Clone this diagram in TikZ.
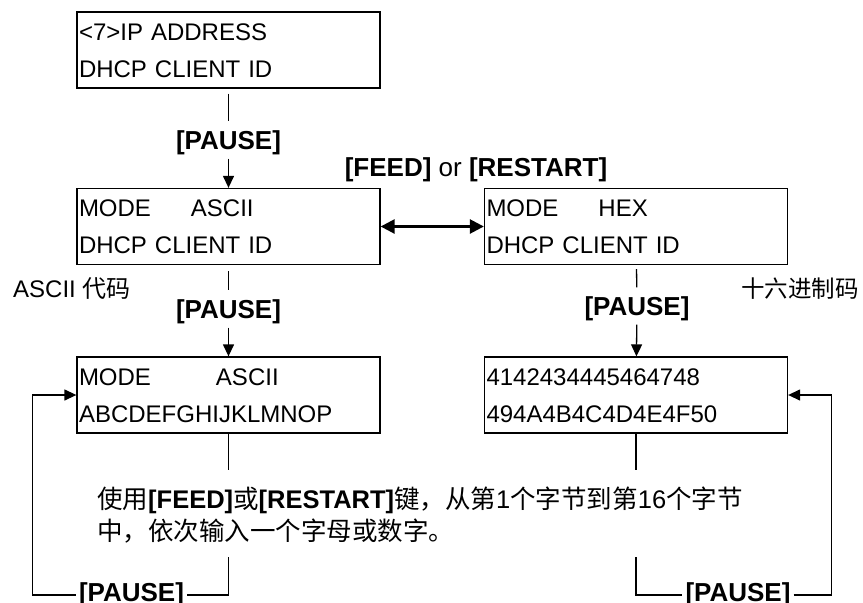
\documentclass[tikz,border=0pt]{standalone}
\usepackage{fontspec}
\setmainfont{Liberation Sans}
\newfontfamily\cjk{Noto Sans CJK SC}
\usetikzlibrary{arrows.meta,positioning}
\newcommand{\zh}[1]{{\cjk #1}}

\begin{document}
\begin{tikzpicture}[x=1pt, y=-1pt,
  lcd/.style={draw, line width=1.3pt, text width=299pt, align=left,
    inner xsep=2pt, inner ysep=11pt, text height=17pt, text depth=37pt,
    font=\fontsize{24}{37}\selectfont},
  key/.style={font=\fontsize{26}{30}\selectfont\bfseries, inner xsep=3pt,
    inner ysep=9pt, text height=19pt, text depth=0pt},
  link/.style={line width=1.3pt},
  tip/.style={line width=1.3pt, -{Triangle[length=12pt,width=11pt]}}]
  \useasboundingbox (0,0) rectangle (863,603);

  % display boxes
  \node[lcd] (ip) at (228.5,50) {<7>IP ADDRESS\\DHCP CLIENT ID};
  \node[lcd] (asc) at (228.5,226.5) {\makebox[112pt][l]{MODE}ASCII\\DHCP CLIENT ID};
  \node[lcd] (hex) at (636,226.5) {\makebox[112pt][l]{MODE}HEX\\DHCP CLIENT ID};
  \node[lcd] (ascin) at (228.5,395) {\makebox[137pt][l]{MODE}ASCII\\ABCDEFGHIJKLMNOP};
  \node[lcd] (hexin) at (636,395) {4142434445464748\\494A4B4C4D4E4F50};

  % key labels
  \node[key] (p1) at (228.5,140) {[PAUSE]};
  \node[key] (p2) at (228.5,309) {[PAUSE]};
  \node[key] (p3) at (637,306) {[PAUSE]};
  \node[key] (sw) at (476,167) {[FEED]\textmd{ or }[RESTART]};

  \draw[link, shorten <=5pt] (ip) -- (p1);
  \draw[tip] (p1) -- (asc);
  \draw[link, shorten <=6pt] (asc) -- (p2);
  \draw[tip] (p2) -- (ascin);
  \draw[link, shorten <=4pt] (hex) -- (p3);
  \draw[tip] (p3) -- (hexin);
  \draw[line width=2.5pt, {Triangle[length=14pt,width=14pt]}-{Triangle[length=14pt,width=14pt]}] (asc) -- (hex);

  \node[font=\fontsize{24}{28}\selectfont, anchor=base west, inner sep=0pt] (asclbl) at (13,297) {ASCII \zh{代码}};
  \node[font=\fontsize{23.5}{28}\selectfont\cjk, anchor=west, inner sep=0pt] (hexlbl) at (741,289) {十六进制码};

  % input note
  \node[font=\fontsize{25.5}{32}\selectfont, align=left, anchor=north west,
    inner xsep=0pt, inner ysep=15pt, text height=55pt, text depth=2pt] (note) at (97,470)
    {\zh{使用}\textbf{[FEED]}\zh{或}\textbf{[RESTART]}\zh{键，从第}1\zh{个字节到第}16\zh{个字节}\\
     \zh{中，依次输入一个字母或数字。}};
  \draw[link] (ascin) -- (ascin.south |- note.north);
  \draw[link] (hexin) -- (hexin.south |- note.north);

  % loops back
  \coordinate (base) at (0,595);
  \node[key, anchor=base] (p4) at (131.5,601) {[PAUSE]};
  \node[key, anchor=base] (p5) at (738,601) {[PAUSE]};
  \draw[link] (ascin.south |- note.south) -- (ascin.south |- base) -- (p4.east |- base);
  \draw[tip] (p4.west |- base) -| ([xshift=-44pt]ascin.west) -- (ascin.west);
  \draw[link] (hexin.south |- note.south) -- (hexin.south |- base) -- (p5.west |- base);
  \draw[tip] (p5.east |- base) -| ([xshift=43pt]hexin.east) -- (hexin.east);
\end{tikzpicture}
\end{document}
